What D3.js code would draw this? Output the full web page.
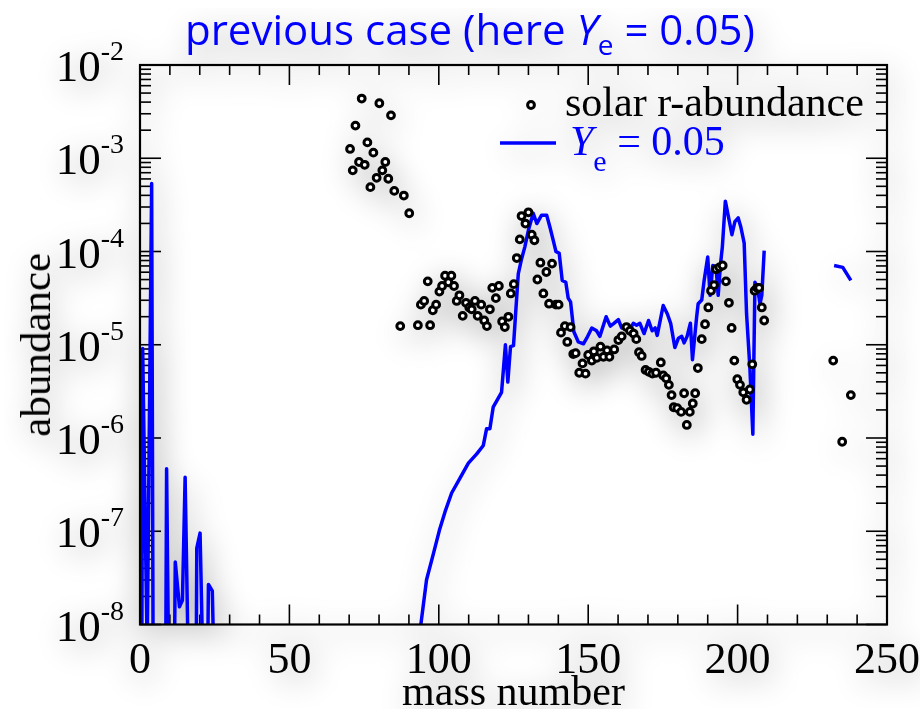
<!DOCTYPE html>
<html>
<head>
<meta charset="utf-8">
<script src="https://cdn.jsdelivr.net/npm/d3@7"></script>
<style>
  html, body { margin: 0; padding: 0; background: #fff; }
  svg { display: block; }
</style>
</head>
<body>
<div id="chart"></div>
<script>
// solar r-process abundances (mass number, log10 abundance)
const solarMass = [70.3, 71.2, 72.1, 73.3, 74.2, 75.2, 76.1, 77.1, 78.1, 79.2, 80.1, 81.1, 82.1, 83.1, 84.0, 85.1, 87.1, 88.3, 90.1,
    93.0, 94.0, 95.1, 96.3, 97.1, 98.0, 99.1, 100.2, 101.1, 102.1, 103.2, 104.2, 105.1, 106.0, 106.9, 108.0, 109.1, 110.2, 111.0,
    112.1, 113.0, 114.2, 115.2, 116.1, 117.1, 117.9, 119.1, 120.1, 121.2, 122.1, 123.3, 124.1, 125.1, 126.1, 127.1, 127.7, 129.0,
    130.0, 131.1, 132.0, 133.0, 134.0, 135.0, 136.0, 136.9, 137.9, 139.2, 140.1, 140.9, 142.2, 143.0, 144.1, 145.0, 145.8, 147.0,
    148.1, 149.1, 150.0, 151.2, 151.9, 152.9, 154.1, 155.1, 156.3, 157.1, 158.7, 160.1, 161.2, 162.8, 164.0, 165.2, 166.1, 167.0,
    167.9, 169.2, 170.3, 171.5, 172.7, 174.3, 175.1, 176.1, 177.0, 177.9, 178.6, 179.8, 181.1, 182.1, 183.0, 184.0, 185.0, 185.8,
    186.7, 188.0, 189.1, 190.2, 191.1, 192.1, 192.8, 193.9, 195.0, 196.1, 197.1, 198.0, 198.9, 199.9, 200.8, 201.9, 203.0, 204.1,
    204.9, 205.7, 206.5, 207.2, 208.1, 208.9, 232.0, 235.0, 237.9];
const solarLogAbund = [-2.90, -3.13, -2.65, -3.04, -2.36, -3.07, -2.83, -3.31, -2.94, -3.21, -2.41, -3.13, -3.04, -3.22, -2.54, -3.35, -4.80, -3.40, -3.59,
    -4.79, -4.57, -4.53, -4.32, -4.79, -4.63, -4.57, -4.43, -4.37, -4.26, -4.33, -4.26, -4.37, -4.53, -4.47, -4.69, -4.55, -4.60, -4.62,
    -4.53, -4.69, -4.57, -4.74, -4.80, -4.62, -4.39, -4.50, -4.37, -4.75, -4.81, -4.70, -4.45, -4.35, -4.07, -3.87, -3.62, -3.70,
    -3.58, -3.82, -3.88, -4.30, -4.12, -4.45, -4.22, -4.56, -4.13, -4.57, -4.57, -4.87, -4.80, -4.97, -4.81, -5.10, -5.09, -5.30,
    -5.20, -5.31, -5.11, -5.17, -5.07, -5.14, -5.02, -5.13, -5.06, -5.13, -5.05, -4.95, -4.91, -4.81, -4.85, -4.88, -4.94, -5.08,
    -5.12, -5.27, -5.29, -5.31, -5.30, -5.19, -5.33, -5.36, -5.43, -5.54, -5.67, -5.68, -5.72, -5.52, -5.86, -5.72, -5.63, -5.52,
    -5.25, -4.94, -4.78, -4.60, -4.42, -4.36, -4.19, -4.17, -4.15, -4.32, -4.55, -4.82, -5.17, -5.37, -5.43, -5.51, -5.59, -5.48,
    -5.21, -4.42, -4.39, -4.39, -4.60, -4.74, -5.17, -6.04, -5.54];

// Ye = 0.05 calculation (mass number, log10 abundance); null = gap
const calcMass = [0.6, 0.9, 2.4, 3.9, 4.4, 8.6, 8.9, 9.6, 11.5, 11.8, 13.2, 14.2, 15.1, 16.2, 18.8, 19.0, 20.1, 21.1, 22.6, 22.9, 24.2, 24.8,
    92.8, 95.9, 98.2, 100.2, 102.1, 104.3, 107.1, 109.9, 112.7, 114.9, 116.0, 117.1, 118.2, 121.0, 122.3, 123.1, 124.0, 125.0,
    125.7, 126.6, 127.7, 128.8, 130.0, 131.6, 132.8, 134.4, 136.1, 137.2, 138.3, 139.2, 140.3, 141.3, 142.5, 143.3, 144.1, 145.2,
    146.7, 148.4, 149.5, 151.2, 152.8, 153.9, 156.0, 157.4, 158.6, 160.1, 161.2, 162.7, 164.0, 165.1, 166.2, 167.3, 168.7, 170.2,
    171.4, 172.4, 173.1, 175.1, 176.5, 177.6, 179.0, 180.2, 181.3, 182.1, 183.1, 184.2, 184.9, 186.3, 186.8, 188.0, 188.8, 190.0,
    190.8, 191.7, 192.8, 193.5, 194.3, 194.9, 195.9, 197.2, 198.1, 199.1, 200.2, 201.1, 202.2, 203.0, 204.1, 205.1, 205.8, 206.6,
    207.5, 208.1, 208.9, 220.0, 232.3, 235.2, 237.9];
const calcLogAbund = [-8.5, -5.04, -8.3, -3.27, -8.5, -8.5, -6.33, -8.5, -8.5, -7.33, -7.81, -7.74, -6.42, -8.5, -8.5, -7.18, -7.02, -8.5, -8.5, -7.57, -7.64, -8.5,
    -8.3, -7.52, -7.24, -6.99, -6.79, -6.59, -6.43, -6.27, -6.17, -6.08, -5.90, -5.90, -5.67, -5.51, -5.00, -5.40, -5.02, -5.01,
    -4.67, -4.24, -4.08, -3.95, -3.77, -3.59, -3.70, -3.61, -3.61, -3.74, -3.88, -4.00, -4.02, -4.31, -4.33, -4.50, -4.54, -4.86,
    -4.97, -4.99, -4.93, -4.82, -4.85, -4.91, -4.70, -4.80, -4.77, -4.73, -4.82, -4.81, -4.83, -4.77, -4.79, -4.77, -4.88, -4.74,
    -4.85, -4.82, -4.90, -4.58, -4.67, -4.77, -5.03, -4.93, -4.91, -4.98, -4.91, -4.77, -5.16, -4.70, -4.56, -4.52, -4.31, -4.06,
    -4.47, -4.15, -4.17, -4.47, -4.13, -3.95, -3.46, -3.67, -3.82, -3.68, -3.64, -3.74, -3.91, -4.67, -5.24, -5.96, -4.33, -4.38,
    -4.56, -4.47, -3.99, null, -4.15, -4.17, -4.31];

const xTicks = [0, 50, 100, 150, 200, 250];
const yExponents = [-8, -7, -6, -5, -4, -3, -2];

const W = 920, H = 709;
const plot = { left: 140, right: 887, top: 65, bottom: 624.5 };
const serif = '"Liberation Serif", "Times New Roman", serif';
const blue = '#0000ff';

const svg = d3.select('#chart').append('svg')
    .attr('width', W)
    .attr('height', H);

svg.append('rect').attr('width', W).attr('height', H).attr('fill', '#fff');

const defs = svg.append('defs');

// soft grey haze behind everything (slide shadow)
const haze = defs.append('filter')
    .attr('id', 'haze')
    .attr('filterUnits', 'userSpaceOnUse')
    .attr('x', 0).attr('y', 0).attr('width', W).attr('height', H);
haze.append('feGaussianBlur').attr('in', 'SourceAlpha').attr('stdDeviation', 16).attr('result', 'blur');
haze.append('feOffset').attr('in', 'blur').attr('dx', 4).attr('dy', 8).attr('result', 'off');
const ct = haze.append('feComponentTransfer').attr('in', 'off').attr('result', 'shadow');
ct.append('feFuncA').attr('type', 'linear').attr('slope', 0.38);
const merge = haze.append('feMerge');
merge.append('feMergeNode').attr('in', 'shadow');
merge.append('feMergeNode').attr('in', 'SourceGraphic');

defs.append('clipPath').attr('id', 'plot-clip')
    .append('rect')
    .attr('x', plot.left).attr('y', plot.top)
    .attr('width', plot.right - plot.left).attr('height', plot.bottom - plot.top);

const g = svg.append('g').attr('filter', 'url(#haze)');

const x = d3.scaleLinear().domain([0, 250]).range([plot.left, plot.right]);
const y = d3.scaleLog().domain([1e-8, 1e-2]).range([plot.bottom, plot.top]);

// ticks, pointing inward on all four sides
const tickG = g.append('g').attr('stroke', '#000').attr('stroke-width', 1.6);
d3.range(0, 251, 10).forEach(v => {
    const len = v % 50 === 0 ? 20 : 10;
    tickG.append('line').attr('x1', x(v)).attr('x2', x(v)).attr('y1', plot.bottom).attr('y2', plot.bottom - len);
    tickG.append('line').attr('x1', x(v)).attr('x2', x(v)).attr('y1', plot.top).attr('y2', plot.top + len);
});
yExponents.forEach(e => {
    const ks = e === -2 ? [1] : d3.range(1, 10);
    ks.forEach(k => {
        const v = k * Math.pow(10, e);
        const len = k === 1 ? 21 : 11;
        tickG.append('line').attr('x1', plot.left).attr('x2', plot.left + len).attr('y1', y(v)).attr('y2', y(v));
        tickG.append('line').attr('x1', plot.right).attr('x2', plot.right - len).attr('y1', y(v)).attr('y2', y(v));
    });
});

// calculated abundance line
const calc = calcMass.map((m, i) => ({ m: m, v: calcLogAbund[i] }));
const line = d3.line()
    .defined(d => d.v !== null)
    .x(d => x(d.m))
    .y(d => y(Math.pow(10, d.v)));

g.append('path')
    .datum(calc)
    .attr('clip-path', 'url(#plot-clip)')
    .attr('d', line)
    .attr('fill', 'none')
    .attr('stroke', blue)
    .attr('stroke-width', 3.5)
    .attr('stroke-linejoin', 'round');

// solar points
const solar = solarMass.map((m, i) => ({ m: m, v: solarLogAbund[i] }));
g.append('g').selectAll('circle')
    .data(solar)
    .enter()
    .append('circle')
    .attr('cx', d => x(d.m))
    .attr('cy', d => y(Math.pow(10, d.v)))
    .attr('r', 3.4)
    .attr('fill', '#fff')
    .attr('stroke', '#000')
    .attr('stroke-width', 3);

// frame
g.append('rect')
    .attr('x', plot.left).attr('y', plot.top)
    .attr('width', plot.right - plot.left).attr('height', plot.bottom - plot.top)
    .attr('fill', 'none')
    .attr('stroke', '#000')
    .attr('stroke-width', 2.2);

// tick labels
g.append('g').selectAll('text')
    .data(xTicks)
    .enter()
    .append('text')
    .attr('x', d => x(d))
    .attr('y', 673)
    .attr('text-anchor', 'middle')
    .attr('font-family', serif)
    .attr('font-size', 44)
    .text(d => d);

const yLab = g.append('g').selectAll('text')
    .data(yExponents)
    .enter()
    .append('text')
    .attr('x', 124)
    .attr('y', d => y(Math.pow(10, d)) + 16)
    .attr('text-anchor', 'end')
    .attr('font-family', serif)
    .attr('font-size', 45);
yLab.append('tspan').text('10');
yLab.append('tspan').attr('dy', -21).attr('font-size', 28).text(d => d);

// axis titles
g.append('text')
    .attr('x', x(125))
    .attr('y', 705)
    .attr('text-anchor', 'middle')
    .attr('font-family', serif)
    .attr('font-size', 42)
    .text('mass number');

g.append('text')
    .attr('transform', `translate(50, ${(plot.top + plot.bottom) / 2}) rotate(-90)`)
    .attr('text-anchor', 'middle')
    .attr('font-family', serif)
    .attr('font-size', 43)
    .text('abundance');

// legend
g.append('circle')
    .attr('cx', 531).attr('cy', 105).attr('r', 3.4)
    .attr('fill', '#fff').attr('stroke', '#000').attr('stroke-width', 3);
g.append('text')
    .attr('x', 565).attr('y', 116)
    .attr('font-family', serif)
    .attr('font-size', 42)
    .text('solar r-abundance');

g.append('line')
    .attr('x1', 500).attr('x2', 556).attr('y1', 143).attr('y2', 143)
    .attr('stroke', blue).attr('stroke-width', 3.5);
const lg = g.append('text')
    .attr('x', 570).attr('y', 155)
    .attr('font-family', serif)
    .attr('font-size', 42)
    .attr('fill', blue);
lg.append('tspan').attr('font-style', 'italic').text('Y');
lg.append('tspan').attr('dy', 16).attr('font-size', 30).text('e');
lg.append('tspan').attr('dy', -16).text(' = 0.05');

// title
const title = g.append('text')
    .attr('x', 185).attr('y', 45)
    .attr('font-family', '"Open Sans", sans-serif')
    .attr('font-size', 42)
    .attr('fill', blue);
title.append('tspan').text('previous case (here ');
title.append('tspan').attr('font-style', 'italic').text('Y');
title.append('tspan').attr('dy', 10).attr('font-size', 28).text('e');
title.append('tspan').attr('dy', -10).text(' = 0.05)');
const tw = title.node().getComputedTextLength();
title.attr('transform', `translate(185,0) scale(${570 / tw},1) translate(-185,0)`);
</script>
</body>
</html>
